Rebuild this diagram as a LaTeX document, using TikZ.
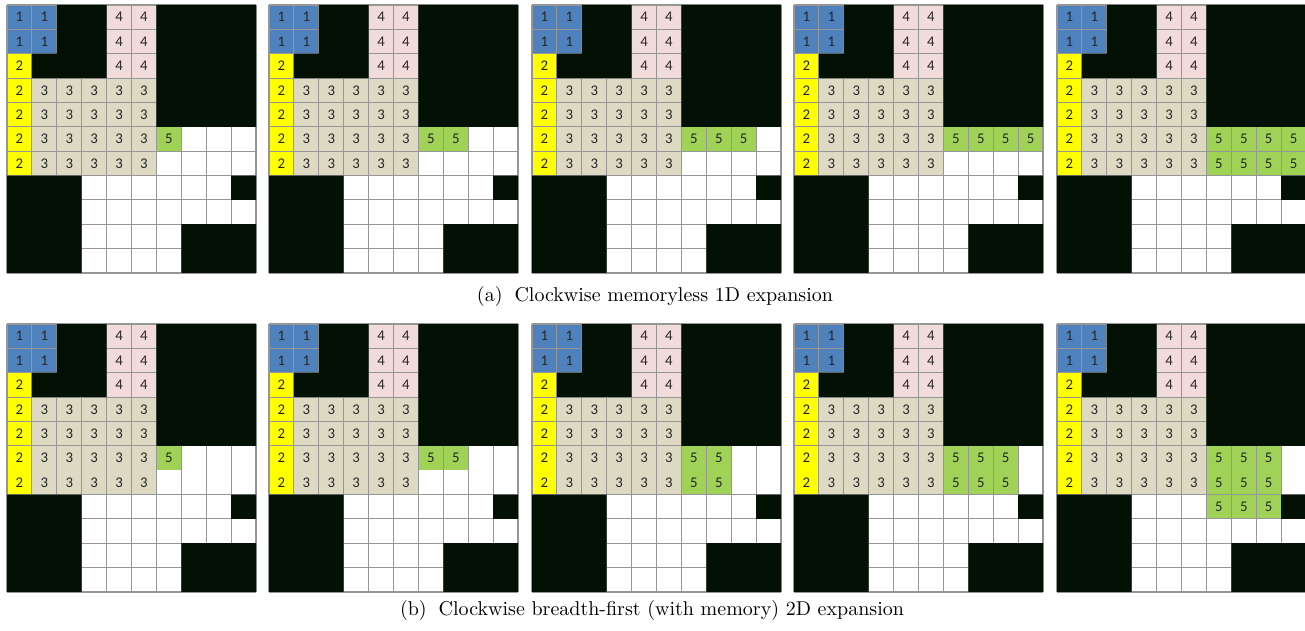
\documentclass[tikz,border=0pt]{standalone}
\usepackage{fontspec}
\usepackage{tikz}
\usetikzlibrary{positioning}
\newfontfamily\cellfont{Carlito}
\definecolor{seedblue}{RGB}{79,129,189}
\definecolor{seedyellow}{RGB}{255,255,0}
\definecolor{seedtan}{RGB}{221,217,195}
\definecolor{seedpink}{RGB}{242,220,219}
\definecolor{seedgreen}{RGB}{160,210,88}
\definecolor{wallblack}{RGB}{3,17,4}
\definecolor{linegray}{RGB}{150,150,150}
\definecolor{digitgray}{RGB}{38,38,38}
\tikzset{
  % --- grid cells ------------------------------------------------------------
  cellbox/.style={rectangle,inner sep=0pt,minimum width=12.45pt,
                  minimum height=12.18pt,text=digitgray,
                  font=\cellfont\fontsize{7.4}{8}\selectfont},
  gridline/.style={linegray,line width=0.55pt},
  wall/.style={fill=wallblack},
  % --- captions --------------------------------------------------------------
  subcap/.style={inner sep=1pt,font=\fontsize{10}{12}\selectfont},
}
% one map: #1 name, #2 left (px), #3 top (px), #4 cells of region 5,
% #5 horizontal grid lines that are drawn
\newcommand{\expgrid}[5]{%
  \begin{scope}[shift={(#2*0.5pt,-#3*0.5pt)},x=12.45pt,y=-12.18pt]
    \fill[white] (0,0) rectangle (10,11);
    \foreach \c/\r in {0/0,1/0,0/1,1/1}
      \node[cellbox,fill=seedblue] (#1-\c-\r) at (\c+0.5,\r+0.5) {1};
    \foreach \r in {2,...,6}
      \node[cellbox,fill=seedyellow] (#1-0-\r) at (0.5,\r+0.5) {2};
    \foreach \c in {1,...,5}
      \foreach \r in {3,...,6}
        \node[cellbox,fill=seedtan] (#1-\c-\r) at (\c+0.5,\r+0.5) {3};
    \foreach \c in {4,5}
      \foreach \r in {0,1,2}
        \node[cellbox,fill=seedpink] (#1-\c-\r) at (\c+0.5,\r+0.5) {4};
    \foreach \c/\r in {#4}
      \node[cellbox,fill=seedgreen] (#1-\c-\r) at (\c+0.5,\r+0.5) {5};
    \foreach \c in {0,...,10}
      \draw[gridline] (\c,0) -- (\c,11);
    \foreach \r in {#5}
      \draw[gridline] (0,\r) -- (10,\r);
    % obstacles
    \fill[wall] (2,0) rectangle (4,2) (1,2) rectangle (4,3)
                (6,0) rectangle (10,5) (0,7) rectangle (3,11)
                (9,7) rectangle (10,8) (7,9) rectangle (10,11);
  \end{scope}}

\begin{document}
\begin{tikzpicture}[x=0.5pt, y=-0.5pt]
  \path[use as bounding box] (0,0) rectangle (1305,631);

  % (a) memoryless 1D
  \expgrid{a1}{7}{5}{6/5}{0,...,11}
  \expgrid{a2}{269}{5}{6/5,7/5}{0,...,11}
  \expgrid{a3}{532}{5}{6/5,7/5,8/5}{0,...,11}
  \expgrid{a4}{794}{5}{6/5,7/5,8/5,9/5}{0,...,11}
  \expgrid{a5}{1057}{5}{6/5,7/5,8/5,9/5,6/6,7/6,8/6,9/6}{0,...,11}
  \node[subcap] (capa) at (655,296) {(a)\hspace{0.6em}Clockwise memoryless 1D expansion};

  % (b) breadth-first 2D
  \expgrid{b1}{7}{324}{6/5}{0,...,5,7,8,...,11}
  \expgrid{b2}{269}{324}{6/5,7/5}{0,...,5,7,8,...,11}
  \expgrid{b3}{532}{324}{6/5,7/5,6/6,7/6}{0,...,5,7,8,...,11}
  \expgrid{b4}{794}{324}{6/5,7/5,8/5,6/6,7/6,8/6}{0,...,5,7,8,...,11}
  \expgrid{b5}{1057}{324}{6/5,7/5,8/5,6/6,7/6,8/6,6/7,7/7,8/7}{0,...,5,7,8,...,11}
  \node[subcap] (capb) at (652,610) {(b)\hspace{0.6em}Clockwise breadth-first (with memory) 2D expansion};
\end{tikzpicture}
\end{document}
